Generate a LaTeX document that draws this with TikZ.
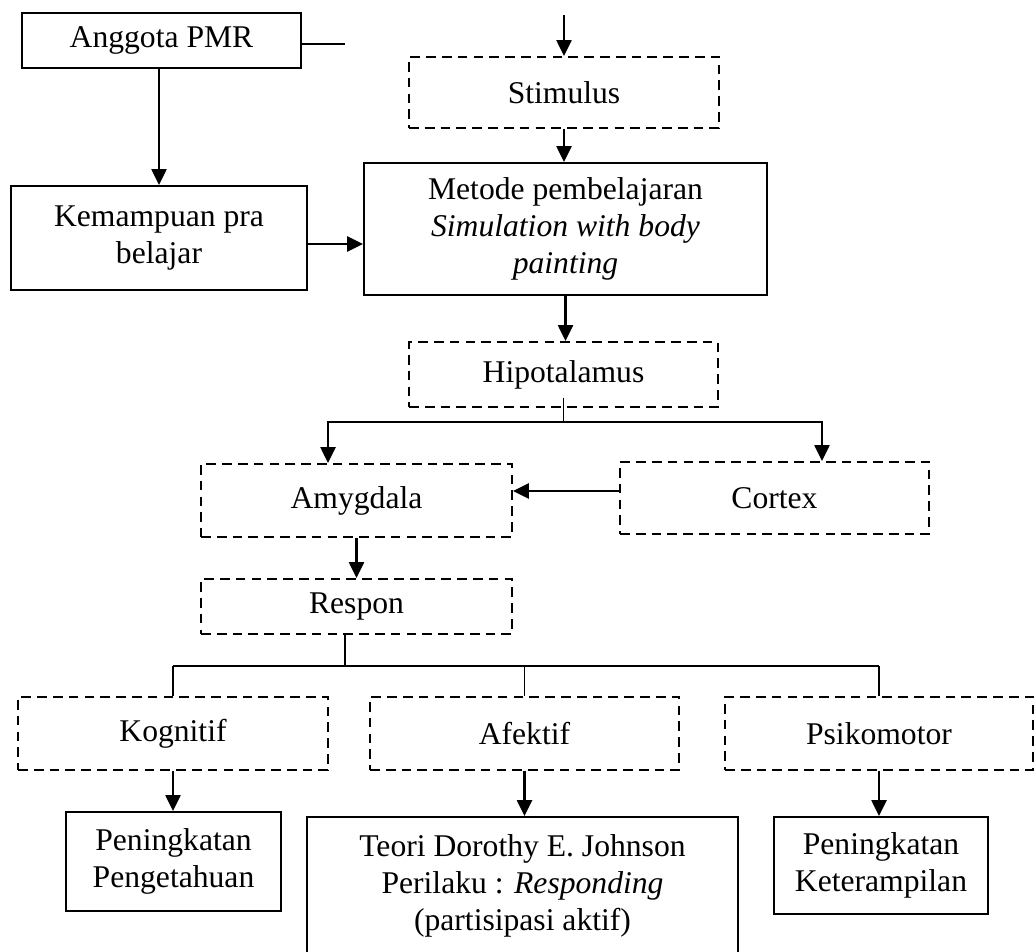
\documentclass[tikz,border=0pt]{standalone}
\usepackage{fontspec}
\setmainfont{Liberation Serif}
\usepackage{tikz}
\usetikzlibrary{positioning, arrows.meta, calc}

\begin{document}
\begin{tikzpicture}[x=0.02cm, y=-0.02cm,
    every node/.style={font=\fontsize{18}{21}\selectfont, align=center, inner sep=0pt},
    solidbox/.style={draw, line width=1.1pt},
    dashbox/.style={draw, line width=1.1pt, dash pattern=on 5.5pt off 3.5pt},
    arr/.style={-{Triangle[length=0.32cm, width=0.3cm]}, line width=1.4pt},
    link/.style={line width=0.8pt}]
  \useasboundingbox (0,0) rectangle (1035,952);
  \clip (0,0) rectangle (1035,952);

  % top row
  \node[solidbox, minimum width=5.58cm, minimum height=1.10cm] (anggota) at (161.5,40.5) {Anggota PMR};
  \node[dashbox, minimum width=6.2cm, minimum height=1.42cm] (stimulus) at (564,92.5) {Stimulus};
  \coordinate (pmrend) at (345,44);
  \coordinate (stimtop) at (564,15);

  % learning method
  \node[solidbox, minimum width=8.06cm, minimum height=2.64cm] (metode) at (565.5,229)
    {Metode pembelajaran\\ \textit{Simulation with body}\\ \textit{painting}};
  \node[solidbox, minimum width=5.92cm, minimum height=2.08cm] (kemampuan) at (159,238)
    {Kemampuan pra\\ belajar};

  % brain
  \node[dashbox, minimum width=6.18cm, minimum height=1.30cm] (hipot) at (563.5,374.5) {Hipotalamus};
  \node[dashbox, minimum width=6.22cm, minimum height=1.46cm] (amygdala) at (356.5,500.5) {Amygdala};
  \node[dashbox, minimum width=6.18cm, minimum height=1.44cm] (cortex) at (774.5,498) {Cortex};
  \node[dashbox, minimum width=6.22cm, minimum height=1.10cm] (respon) at (356.5,606.5) {Respon};
  \coordinate (hsplit) at (563.5,422);
  \coordinate (rsplit) at (345,666);

  % domains
  \node[dashbox, minimum width=6.2cm, minimum height=1.46cm] (kognitif) at (173,733.5) {Kognitif};
  \node[dashbox, minimum width=6.18cm, minimum height=1.46cm] (afektif) at (524.5,733.5) {Afektif};
  \node[dashbox, minimum width=6.16cm, minimum height=1.46cm] (psikomotor) at (879,733.5) {Psikomotor};

  % outcomes
  \node[solidbox, minimum width=4.3cm, minimum height=1.98cm] (pengetahuan) at (173.5,861.5)
    {Peningkatan\\ Pengetahuan};
  \node[solidbox, minimum width=8.62cm, minimum height=2.76cm] (teori) at (522.5,886)
    {Teori Dorothy E. Johnson\\ Perilaku : \textit{Responding}\\ (partisipasi aktif)};
  \node[solidbox, minimum width=4.28cm, minimum height=1.94cm] (keterampilan) at (881,865.5)
    {Peningkatan\\ Keterampilan};

  % connectors
  \draw[link] (anggota.east |- pmrend) -- (pmrend);
  \draw[arr] (stimtop) -- (stimulus.north);
  \draw[arr] (stimulus.south) -- (stimulus.south |- metode.north);
  \draw[arr] (kemampuan.north |- anggota.south) -- (kemampuan.north);
  \draw[arr] ([yshift=-0.12cm]kemampuan.east) -- ([yshift=-0.12cm]kemampuan.east -| metode.west);
  \draw[arr] (metode.south) -- (metode.south |- hipot.north);
  \draw[link] ([yshift=0.2cm]hipot.south) -- (hsplit);
  \draw[arr] (hsplit) -| ([xshift=-0.57cm]amygdala.north);
  \draw[arr] (hsplit) -| ([xshift=0.95cm]cortex.north);
  \draw[arr] ([yshift=0.14cm]cortex.west) -- ([yshift=0.14cm]cortex.west -| amygdala.east);
  \draw[arr] (amygdala.south) -- (respon.north);
  \draw[link] (rsplit |- respon.south) -- (rsplit);
  \draw[line width=1.1pt] (rsplit -| kognitif.north) -- (rsplit -| psikomotor.north);
  \draw[link] (rsplit -| kognitif.north) -- (kognitif.north);
  \draw[link] (rsplit -| afektif.north) -- (afektif.north);
  \draw[link] (rsplit -| psikomotor.north) -- (psikomotor.north);
  \draw[arr] (kognitif.south) -- (kognitif.south |- pengetahuan.north);
  \draw[arr] (afektif.south) -- (afektif.south |- teori.north);
  \draw[arr] (psikomotor.south) -- (psikomotor.south |- keterampilan.north);
\end{tikzpicture}
\end{document}
